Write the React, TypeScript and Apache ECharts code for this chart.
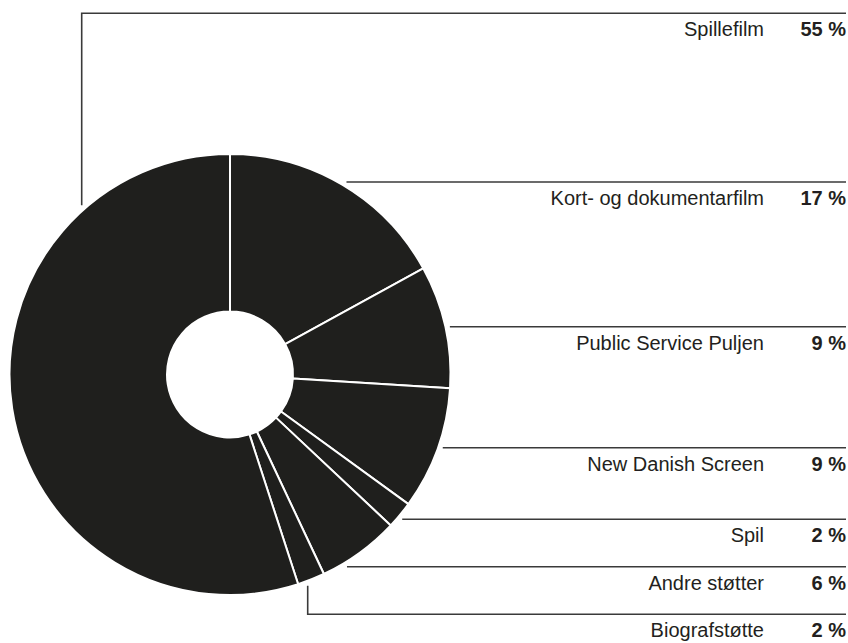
import React, { useEffect, useRef } from 'react';
import * as echarts from 'echarts';

// Data (clockwise from 12 o'clock)
const categories = [
  'Kort- og dokumentarfilm',
  'Public Service Puljen',
  'New Danish Screen',
  'Spil',
  'Andre støtter',
  'Biografstøtte',
  'Spillefilm',
];
const shares = [17, 9, 9, 2, 6, 2, 55];

// Layout (label rows and leader geometry)
const rowLineY = [182, 326.7, 447.7, 519.3, 566.7, 614.3, 13.3];
const verticalLeaderX: (number | null)[] = [null, null, null, null, null, 307.7, 81.7];

const CX = 230;
const CY = 374.5;
const R_OUT = 220.5;
const R_IN = 63;
const R_LEAD = 225;
const LINE_END = 846;
const FONT = "'Liberation Sans', Arial, Helvetica, sans-serif";

export default function App() {
  const ref = useRef<HTMLDivElement>(null);

  useEffect(() => {
    if (!ref.current) return;
    const chart = echarts.init(ref.current, null, { renderer: 'svg' });
    chart.setOption({
      animation: false,
      backgroundColor: '#ffffff',
      series: [
        {
          type: 'pie',
          center: [CX, CY],
          radius: [R_IN, R_OUT],
          startAngle: 90,
          clockwise: true,
          avoidLabelOverlap: false,
          silent: true,
          emphasis: { disabled: true },
          itemStyle: { color: '#1f1f1d', borderColor: '#ffffff', borderWidth: 2 },
          label: {
            show: true,
            position: 'outer',
            alignTo: 'none',
            formatter: (p: any) => `{n|${p.name}}{p|${p.value} %}`,
            rich: {
              n: { fontFamily: FONT, fontSize: 20, color: '#231f20' },
              p: {
                fontFamily: FONT,
                fontSize: 20,
                fontWeight: 'bold',
                color: '#231f20',
                width: 82,
                align: 'right',
              },
            },
          },
          labelLine: {
            show: true,
            length: 10,
            length2: 10,
            smooth: false,
            lineStyle: { color: '#3a3a3a', width: 1.6 },
          },
          labelLayout: (params: any) => {
            const i = params.dataIndex;
            const y = rowLineY[i];
            const vx = verticalLeaderX[i];
            let pts: number[][];
            if (vx !== null && vx !== undefined) {
              const h = Math.sqrt(R_LEAD * R_LEAD - (vx - CX) * (vx - CX));
              const y0 = y < CY ? CY - h : CY + h;
              pts = [
                [vx, y0],
                [vx, y],
                [LINE_END, y],
              ];
            } else {
              const x0 = CX + Math.sqrt(R_LEAD * R_LEAD - (y - CY) * (y - CY));
              pts = [
                [x0, y],
                [x0 + 1, y],
                [LINE_END, y],
              ];
            }
            return {
              x: LINE_END,
              y: y + 16,
              align: 'right',
              verticalAlign: 'middle',
              labelLinePoints: pts,
            };
          },
          data: categories.map((name, i) => ({ name, value: shares[i] })),
        },
      ],
    });
    return () => chart.dispose();
  }, []);

  return (
    <div
      ref={ref}
      style={{ position: 'fixed', left: 0, top: 0, width: 848, height: 643 }}
    />
  );
}
